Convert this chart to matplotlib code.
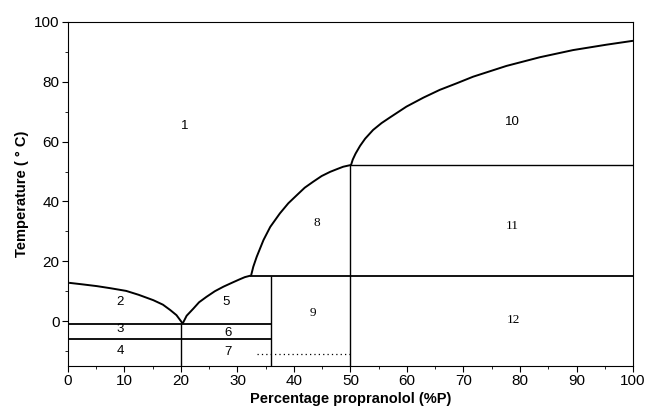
import matplotlib
matplotlib.use('Agg')
import matplotlib.pyplot as plt
import numpy as np
from matplotlib.ticker import MultipleLocator

plt.rcParams.update({'font.family': ['Liberation Sans', 'DejaVu Sans'],
                     'axes.linewidth': 0.8,
                     'xtick.major.size': 4, 'ytick.major.size': 4,
                     'xtick.minor.size': 2.5, 'ytick.minor.size': 2.5,
                     'xtick.direction': 'out', 'ytick.direction': 'out'})

# liquidus curves (x = %P, y = T in deg C)
liq_left_x = [0.2, 2.5, 5.1, 7.5, 10.3, 12.5, 15.1, 16.8, 18.1, 19.2, 20.3]
liq_left_y = [12.8, 12.3, 11.7, 11.0, 10.1, 8.8, 7.0, 5.5, 3.7, 2.0, -0.8]
liq_mid_x = [20.3, 21.0, 22.2, 23.2, 24.5, 26.0, 27.5, 29.0, 30.3, 31.3, 32.3]
liq_mid_y = [-0.8, 1.8, 4.2, 6.3, 8.1, 10.0, 11.5, 12.8, 13.9, 14.7, 15.2]
curve8_x = [32.4, 32.8, 33.4, 34.6, 35.8, 37.5, 39.0, 40.5, 41.9, 43.4, 44.9,
            46.4, 47.6, 48.7, 50.1]
curve8_y = [15.2, 18.2, 21.5, 27.1, 31.5, 36.0, 39.4, 42.1, 44.6, 46.6, 48.5,
            49.9, 50.8, 51.6, 52.2]
curve10_x = [50.1, 50.4, 50.9, 51.7, 52.6, 54.0, 55.5, 57.0, 59.9, 62.9, 65.8,
             68.8, 71.7, 77.6, 83.5, 89.4, 95.3, 100]
curve10_y = [52.2, 54.0, 56.0, 58.6, 61.0, 63.9, 66.2, 68.1, 71.7, 74.7, 77.3,
             79.5, 81.7, 85.3, 88.2, 90.6, 92.4, 93.7]

# invariant lines
t_eut = -1.1      # line between 2 and 3
t_low = -6.1      # line between 3 and 4
t_mid = 15.2      # line at top of 9 / 12
t_high = 52.2     # line at top of 11
t_dot = -11.0     # dotted line in 7 / 9
x_a, x_b, x_c = 20, 36, 50
ymin, ymax = -15, 100

region_names = ['1', '2', '3', '4', '5', '6', '7', '8', '9', '10', '11', '12']
region_x = [20.7, 9.2, 9.2, 9.2, 28.0, 28.3, 28.3, 44.1, 43.4, 78.6, 78.6, 78.8]
region_y = [65.2, 6.4, -2.7, -10.0, 6.4, -4.0, -10.4, 32.8, 2.7, 66.6, 31.8, 0.3]
serif_names = ['8', '9', '11', '12']

fig = plt.figure(figsize=(6.45, 4.15), dpi=100)
ax = fig.add_axes([0.1054, 0.1181, 0.876, 0.829])

kw = dict(color='black', lw=1.4, solid_capstyle='butt', solid_joinstyle='round')
ax.plot(liq_left_x, liq_left_y, **kw)
ax.plot(liq_mid_x, liq_mid_y, **kw)
ax.plot(curve8_x, curve8_y, **kw)
ax.plot(curve10_x, curve10_y, **kw)

ax.hlines([t_eut, t_low], 0, x_b, color='black', lw=1.3)
ax.hlines(t_mid, liq_mid_x[-1], 100, color='black', lw=1.3)
ax.hlines(t_high, x_c, 100, color='black', lw=1.0)
ax.vlines(x_a, ymin, t_eut, color='black', lw=1.0)
ax.vlines(x_b, ymin, t_mid, color='black', lw=1.0)
ax.vlines(x_c, ymin, t_high, color='black', lw=1.0)
ax.hlines(t_dot, 33.4, x_c, color='black', lw=0.9, linestyles=(0, (1, 2.5)))

for name, x, y in zip(region_names, region_x, region_y):
    if name in serif_names:
        ax.text(x, y, name, ha='center', va='center', fontsize=9.5,
                family=['Liberation Serif', 'DejaVu Serif'])
    else:
        ax.text(x, y, name, ha='center', va='center', fontsize=9.5)

ax.set_xlim(0, 100)
ax.set_ylim(ymin, ymax)
ax.xaxis.set_major_locator(MultipleLocator(10))
ax.xaxis.set_minor_locator(MultipleLocator(5))
ax.set_yticks([0, 20, 40, 60, 80, 100])
ax.yaxis.set_minor_locator(MultipleLocator(10))
ax.tick_params(labelsize=11, pad=2)

ax.set_xlabel('Percentage propranolol (%P)', fontweight='bold', fontsize=10.5, labelpad=3)
ax.set_ylabel('Temperature ( ° C)', fontweight='bold', fontsize=10.5, labelpad=4)

fig.savefig('out.png', dpi=100)
